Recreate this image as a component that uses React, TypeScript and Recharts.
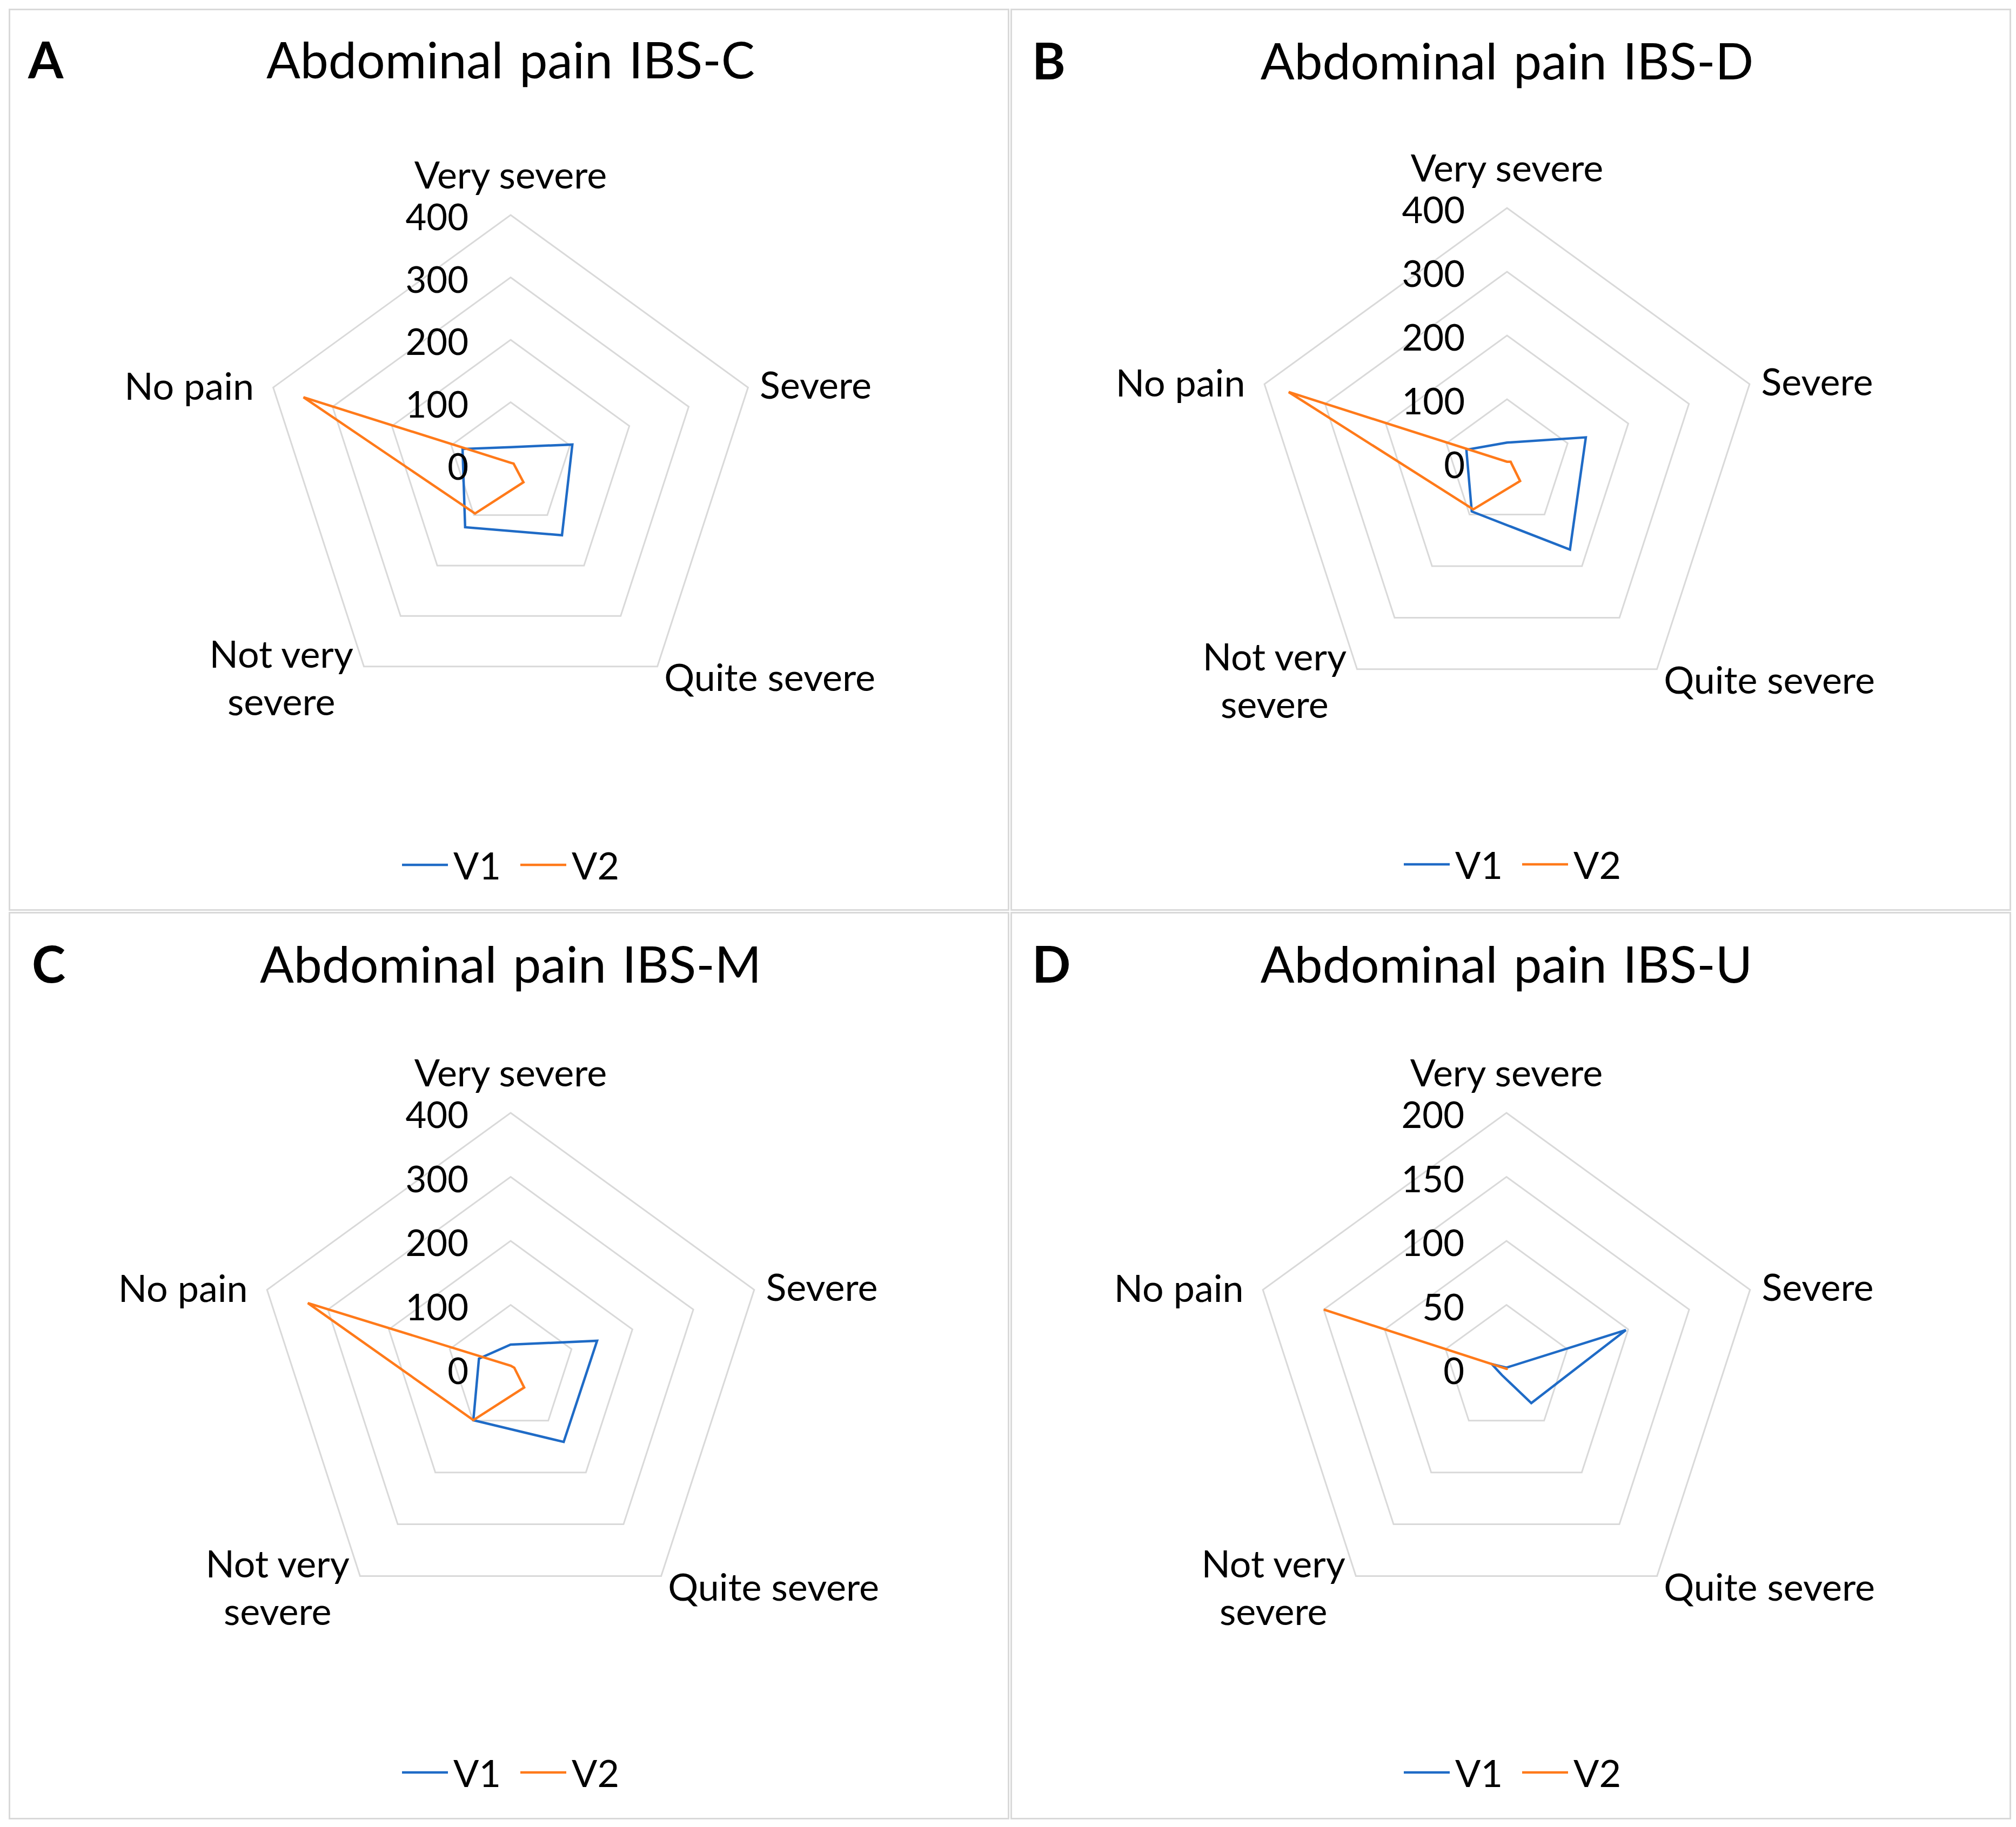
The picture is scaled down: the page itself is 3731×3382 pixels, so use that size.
import React from 'react'
import { RadarChart, Radar, PolarGrid, PolarAngleAxis, PolarRadiusAxis, Legend } from 'recharts'

// severity categories, clockwise from the top
const categories = ['Very severe', 'Severe', 'Quite severe', 'Not very severe', 'No pain']

// IBS-C
const ibsC_V1 = [28, 104, 140, 124, 81]
const ibsC_V2 = [3, 5, 35, 97, 349]
// IBS-D
const ibsD_V1 = [32, 130, 168, 94, 67]
const ibsD_V2 = [2, 6, 35, 90, 360]
// IBS-M
const ibsM_V1 = [38, 142, 141, 99, 52]
const ibsM_V2 = [5, 6, 36, 99, 333]
// IBS-U
const ibsU_V1 = [1, 98, 33, 6, 12]
const ibsU_V2 = [0, 1, 0, 0, 150]

const ticks400 = [0, 100, 200, 300, 400]
const ticks200 = [0, 50, 100, 150, 200]

const FONT = "Lato, 'Noto Sans', sans-serif"
const BLUE = '#1F6BC6'
const ORANGE = '#FF7A1A'
const PANEL_W = 1852
const PANEL_H = 1670
const LABEL_SIZE = 70

const wrapped: Record<string, string[]> = {
  'Not very severe': ['Not very', 'severe'],
}

interface PanelProps {
  left: number
  top: number
  height: number
  letter: string
  letterX: number
  title: string
  titleY: number
  v1: number[]
  v2: number[]
  ticks: number[]
  cx: number
  cy: number
  radius: number
  legendY: number
}

function Panel({ left, top, height, letter, letterX, title, titleY, v1, v2, ticks, cx, cy, radius, legendY }: PanelProps) {
  const data = categories.map((name, i) => ({ name, V1: v1[i], V2: v2[i] }))

  const angleTick = (props: any) => {
    const { x, y, payload } = props
    const dx = x - cx
    const dy = y - cy
    const lines = wrapped[payload.value] || [payload.value]
    let tx = x
    let ty = y
    let anchor: 'start' | 'middle' | 'end' = 'middle'
    if (Math.abs(dx) < 2) {
      ty = y - 68
    } else if (dx > 0) {
      anchor = 'start'
      tx = x + (dy < 0 ? 14 : 8)
      ty = dy < 0 ? y - 4 : y + 12
    } else {
      if (lines.length > 1) {
        anchor = 'middle'
        tx = x - 148
      } else {
        anchor = 'end'
        tx = x - 28
      }
      ty = dy < 0 ? y - 2 : y + 13
    }
    const lh = 88
    const start = ty - ((lines.length - 1) * lh) / 2
    return (
      <text textAnchor={anchor} fontFamily={FONT} fontSize={LABEL_SIZE} fill="#000">
        {lines.map((l, i) => (
          <tspan key={i} x={tx} y={start + i * lh} dominantBaseline="central">{l}</tspan>
        ))}
      </text>
    )
  }

  const radiusTick = (props: any) => {
    const { x, y, payload } = props
    return (
      <text x={x - 78} y={y + 2} textAnchor="end" dominantBaseline="central" fontFamily={FONT} fontSize={67} fill="#000">
        {payload.value}
      </text>
    )
  }

  const legendContent = (props: any) => {
    const items = props.payload || []
    return (
      <div style={{ display: 'flex', justifyContent: 'center', alignItems: 'center', fontFamily: FONT, fontSize: LABEL_SIZE, color: '#000' }}>
        {items.map((p: any, i: number) => (
          <div key={i} style={{ display: 'flex', alignItems: 'center', marginRight: i < items.length - 1 ? 36 : 0 }}>
            <svg width={85} height={10}>
              <line x1={0} y1={5} x2={85} y2={5} stroke={p.color || p.payload?.stroke} strokeWidth={4.5} />
            </svg>
            <span style={{ marginLeft: 10 }}>{p.value}</span>
          </div>
        ))}
      </div>
    )
  }

  return (
    <div style={{ position: 'absolute', left, top, width: PANEL_W, height, border: '3px solid #d9d9d9', boxSizing: 'border-box', background: '#fff' }}>
      <div style={{ position: 'absolute', left: 0, top: -3, width: PANEL_W, height }}>
        <RadarChart width={PANEL_W} height={height} data={data} cx={cx} cy={cy} outerRadius={radius} startAngle={90} endAngle={-270}>
          <PolarGrid gridType="polygon" radialLines={false} stroke="#d9d9d9" strokeWidth={3} />
          <PolarAngleAxis dataKey="name" tick={angleTick} tickLine={false} axisLine={false} />
          <PolarRadiusAxis type="number" angle={90} domain={[0, ticks[ticks.length - 1]]} ticks={ticks} tickCount={ticks.length} tick={radiusTick} axisLine={false} tickLine={false} />
          <Radar name="V1" dataKey="V1" stroke={BLUE} strokeWidth={4.5} fill="none" fillOpacity={0} dot={false} isAnimationActive={false} />
          <Radar name="V2" dataKey="V2" stroke={ORANGE} strokeWidth={4.5} fill="none" fillOpacity={0} dot={false} isAnimationActive={false} />
          <Legend content={legendContent} wrapperStyle={{ position: 'absolute', left: 0, top: legendY - 43, width: PANEL_W }} />
        </RadarChart>
      </div>
      <div style={{ position: 'absolute', left: letterX - 3, top: titleY - 60, fontFamily: FONT, fontWeight: 700, fontSize: 94, lineHeight: '120px' }}>
        {letter}
      </div>
      <div style={{ position: 'absolute', left: cx - 700, width: 1400, top: titleY - 60, textAlign: 'center', fontFamily: FONT, fontSize: 93, lineHeight: '120px', whiteSpace: 'nowrap', wordSpacing: 6 }}>
        {title}
      </div>
    </div>
  )
}

export default function App() {
  return (
    <div style={{ position: 'absolute', left: 0, top: 0, width: 3731, height: 3382, background: '#fff' }}>
      <Panel left={16} top={16} height={PANEL_H} letter="A" letterX={36} title="Abdominal pain IBS-C" titleY={90}
        v1={ibsC_V1} v2={ibsC_V2} ticks={ticks400} cx={926} cy={844} radius={462} legendY={1586} />
      <Panel left={1870} top={16} height={PANEL_H} letter="B" letterX={40} title="Abdominal pain IBS-D" titleY={92}
        v1={ibsD_V1} v2={ibsD_V2} ticks={ticks400} cx={916} cy={841} radius={472} legendY={1585} />
      <Panel left={16} top={1688} height={1680} letter="C" letterX={43} title="Abdominal pain IBS-M" titleY={92}
        v1={ibsM_V1} v2={ibsM_V2} ticks={ticks400} cx={926} cy={846} radius={474} legendY={1594} />
      <Panel left={1870} top={1688} height={1680} letter="D" letterX={40} title="Abdominal pain IBS-U" titleY={92}
        v1={ibsU_V1} v2={ibsU_V2} ticks={ticks200} cx={915} cy={846} radius={474} legendY={1594} />
    </div>
  )
}
